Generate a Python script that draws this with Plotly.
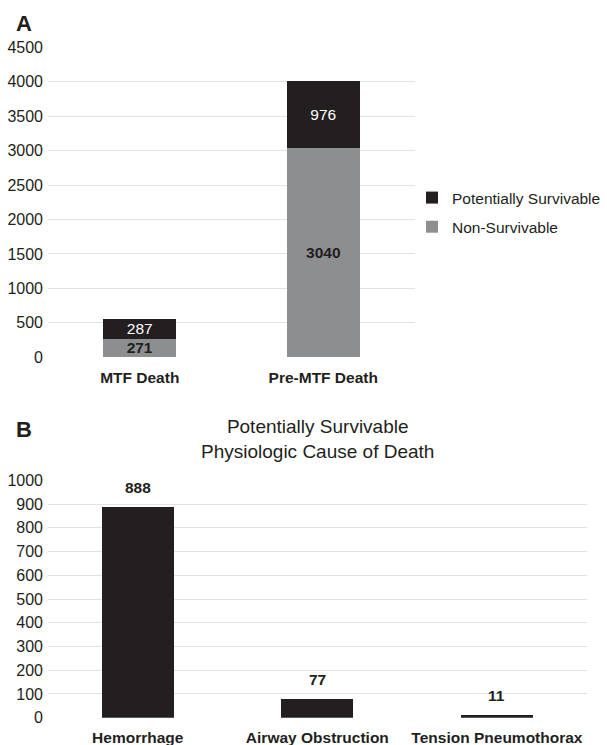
import plotly.graph_objects as go

# Panel A data
a_categories = ["MTF Death", "Pre-MTF Death"]
a_non_survivable = [271, 3040]
a_potentially_survivable = [287, 976]
a_ticks = [0, 500, 1000, 1500, 2000, 2500, 3000, 3500, 4000, 4500]

# Panel B data
b_categories = ["Hemorrhage", "Airway Obstruction", "Tension Pneumothorax"]
b_values = [888, 77, 11]
b_ticks = [0, 100, 200, 300, 400, 500, 600, 700, 800, 900, 1000]

FONT = "Liberation Sans, Arial, Helvetica, sans-serif"
DARK = "#231f20"
GRAY = "#8d8e90"
GRID = "#e2e2e2"
W, H = 607, 745

fig = go.Figure()

fig.add_trace(go.Bar(
    x=a_categories, y=a_non_survivable, name="Non-Survivable",
    marker=dict(color=GRAY, line=dict(width=0)),
    text=[str(v) for v in a_non_survivable], textposition="inside",
    insidetextanchor="middle", constraintext="none", textangle=0,
    texttemplate="<b>%{text}</b>",
    textfont=dict(family=FONT, size=15.5, color=DARK),
    xaxis="x", yaxis="y", legendgroup="ns", legendrank=2, hoverinfo="skip",
))
fig.add_trace(go.Bar(
    x=a_categories, y=a_potentially_survivable, name="Potentially Survivable",
    marker=dict(color=DARK, line=dict(width=0)),
    text=[str(v) for v in a_potentially_survivable], textposition="inside",
    insidetextanchor="middle", constraintext="none", textangle=0,
    textfont=dict(family=FONT, size=15.5, color="white"),
    xaxis="x", yaxis="y", legendgroup="ps", legendrank=1, hoverinfo="skip",
))
fig.add_trace(go.Bar(
    x=b_categories, y=b_values, name="Potentially Survivable (B)",
    marker=dict(color=DARK, line=dict(width=0)),
    showlegend=False, xaxis="x2", yaxis="y2", hoverinfo="skip",
))

for c, v in zip(b_categories, b_values):
    fig.add_annotation(
        x=c, y=v, xref="x2", yref="y2", text=f"<b>{v}</b>",
        showarrow=False, yanchor="bottom", yshift=9,
        font=dict(family=FONT, size=15.5, color=DARK),
    )

# Panel letters and B title
fig.add_annotation(x=14 / W, y=1 - 24 / H, xref="paper", yref="paper",
                   text="<b>A</b>", showarrow=False, xanchor="left", yanchor="middle",
                   font=dict(family=FONT, size=22, color=DARK))
fig.add_annotation(x=14 / W, y=1 - 429 / H, xref="paper", yref="paper",
                   text="<b>B</b>", showarrow=False, xanchor="left", yanchor="middle",
                   font=dict(family=FONT, size=22, color=DARK))
fig.add_annotation(x=317.3 / W, y=1 - 439 / H, xref="paper", yref="paper",
                   text="Potentially Survivable<br>Physiologic Cause of Death",
                   showarrow=False, xanchor="center", yanchor="middle",
                   font=dict(family=FONT, size=19, color=DARK))

axis_common = dict(
    showline=False, zeroline=False, ticks="", automargin=False,
    tickfont=dict(family=FONT, size=16, color=DARK),
    gridcolor=GRID, gridwidth=1,
)
xcat_common = dict(
    showgrid=False, showline=False, zeroline=False, ticks="", automargin=False,
    ticklabelstandoff=9,
    tickfont=dict(family=FONT, size=15.5, color=DARK, weight="bold"),
)

fig.update_layout(
    width=W, height=H,
    margin=dict(l=0, r=0, t=0, b=0, autoexpand=False),
    paper_bgcolor="white", plot_bgcolor="white",
    barmode="stack", bargap=0.6,
    font=dict(family=FONT, color=DARK),
    xaxis=dict(domain=[48 / W, 415 / W], anchor="y", **xcat_common),
    yaxis=dict(domain=[1 - 357.3 / H, 1 - 47.3 / H], anchor="x",
               range=[0, 4500], tickvals=a_ticks, showgrid=True,
               ticklabelstandoff=4, **axis_common),
    xaxis2=dict(domain=[48 / W, 586.7 / W], anchor="y2", **xcat_common),
    yaxis2=dict(domain=[1 - 717.7 / H, 1 - 480.3 / H], anchor="x2",
                range=[0, 1000], tickvals=b_ticks, showgrid=True,
                ticklabelstandoff=4, **axis_common),
    legend=dict(x=412 / W, y=1 - 212.5 / H, xanchor="left", yanchor="middle",
                traceorder="grouped", tracegroupgap=6,
                font=dict(family=FONT, size=15.5, color=DARK),
                bgcolor="rgba(0,0,0,0)"),
    showlegend=True,
)

fig.write_html(
    "out.html",
    config={"displayModeBar": False},
    post_script="document.body.style.margin='0';document.body.style.overflow='hidden';",
)
